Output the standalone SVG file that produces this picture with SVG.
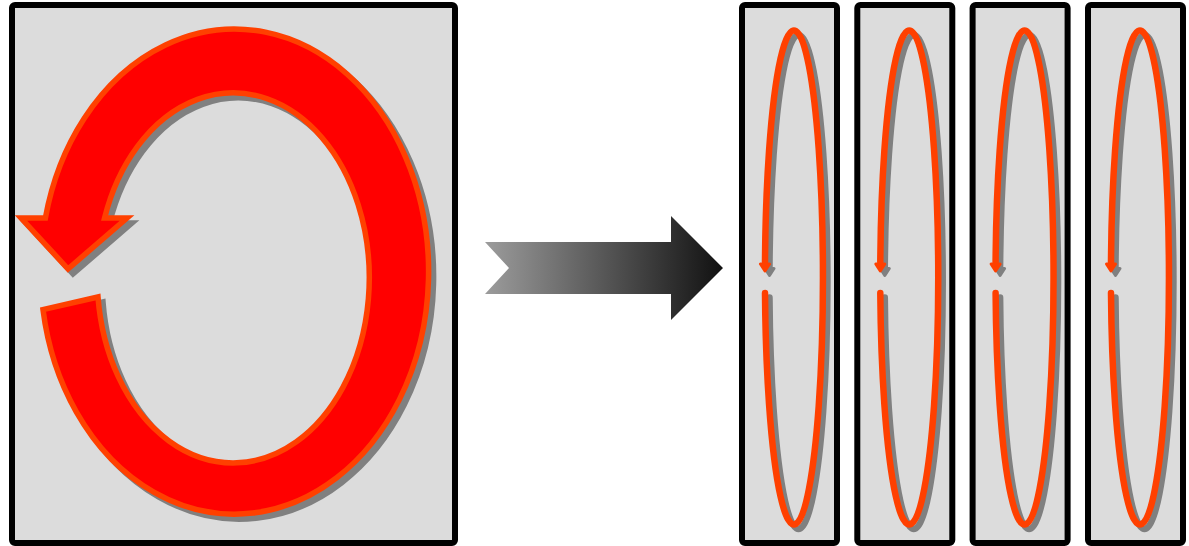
<svg xmlns="http://www.w3.org/2000/svg" width="1189" height="546" viewBox="0 0 1189 546">
<defs>
<style>
.box{fill:#dcdcdc;stroke:#000;stroke-width:6;stroke-linejoin:round}
.shadow{fill:#808080;stroke:#808080;stroke-width:5.5;stroke-linejoin:miter}
.big{fill:#ff0000;stroke:#ff4000;stroke-width:5.5;stroke-linejoin:miter}
.loopS{fill:none;stroke:#808080;stroke-width:6.5;stroke-linecap:round}
.loop{fill:none;stroke:#ff4000;stroke-width:6.5;stroke-linecap:round}
.headS{fill:#808080;stroke:#808080;stroke-width:3;stroke-linejoin:round}
.head{fill:#ff4000;stroke:#ff4000;stroke-width:3;stroke-linejoin:round}
</style>
<linearGradient id="grad" x1="0" y1="0" x2="1" y2="0">
<stop offset="0" stop-color="#9c9c9c"/>
<stop offset="1" stop-color="#111111"/>
</linearGradient>
<path id="bigArrow" d="M43,309.6 A194,242.5 0 1 0 45.4,218 L21,218 L68,269 L127,218 L104.6,218 A136,185 0 1 1 98,297 Z"/>
</defs>
<g id="left-panel">
<rect class="box" x="12" y="5" width="443" height="538" rx="3"/>
<use href="#bigArrow" class="shadow" transform="translate(5,5)"/>
<use href="#bigArrow" class="big"/>
</g>
<g id="connectors">
<path d="M485,242 L671,242 L671,216 L723,268 L671,320 L671,294 L485,294 L509,268 Z" fill="url(#grad)"/>
</g>
<g id="panel-1">
<rect class="box" x="742" y="5" width="95" height="538" rx="3"/>
<g transform="translate(4.5,4.5)"><path class="loopS" d="M765,293 A29,247 0 1 0 765,262"/><polygon class="headS" points="760.5,264 769.5,264 765,271"/></g>
<path class="loop" d="M765,293 A29,247 0 1 0 765,262"/><polygon class="head" points="760.5,264 769.5,264 765,271"/>
</g>
<g id="panel-2" transform="translate(115.3,0)">
<rect class="box" x="742" y="5" width="95" height="538" rx="3"/>
<g transform="translate(4.5,4.5)"><path class="loopS" d="M765,293 A29,247 0 1 0 765,262"/><polygon class="headS" points="760.5,264 769.5,264 765,271"/></g>
<path class="loop" d="M765,293 A29,247 0 1 0 765,262"/><polygon class="head" points="760.5,264 769.5,264 765,271"/>
</g>
<g id="panel-3" transform="translate(230.6,0)">
<rect class="box" x="742" y="5" width="95" height="538" rx="3"/>
<g transform="translate(4.5,4.5)"><path class="loopS" d="M765,293 A29,247 0 1 0 765,262"/><polygon class="headS" points="760.5,264 769.5,264 765,271"/></g>
<path class="loop" d="M765,293 A29,247 0 1 0 765,262"/><polygon class="head" points="760.5,264 769.5,264 765,271"/>
</g>
<g id="panel-4" transform="translate(346,0)">
<rect class="box" x="742" y="5" width="95" height="538" rx="3"/>
<g transform="translate(4.5,4.5)"><path class="loopS" d="M765,293 A29,247 0 1 0 765,262"/><polygon class="headS" points="760.5,264 769.5,264 765,271"/></g>
<path class="loop" d="M765,293 A29,247 0 1 0 765,262"/><polygon class="head" points="760.5,264 769.5,264 765,271"/>
</g>
</svg>
